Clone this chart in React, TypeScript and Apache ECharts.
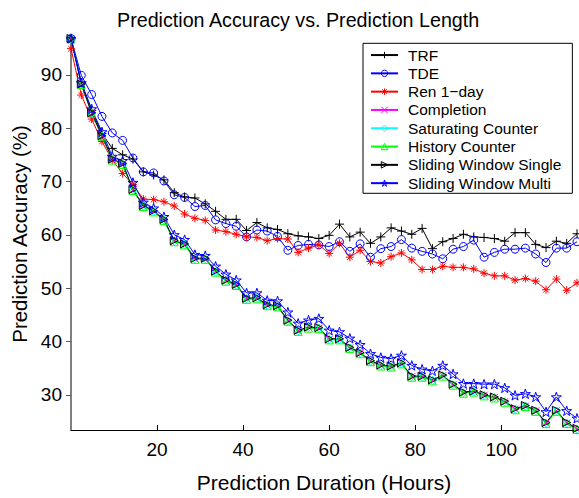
import React, { useEffect, useRef } from "react";
import * as echarts from "echarts";

const hours = [
  0, 2.4, 4.8, 7.2, 9.6, 12, 14.4, 16.8, 19.2, 21.6,
  24, 26.4, 28.8, 31.2, 33.6, 36, 38.4, 40.8, 43.2, 45.6,
  48, 50.4, 52.8, 55.2, 57.6, 60, 62.4, 64.8, 67.2, 69.6,
  72, 74.4, 76.8, 79.2, 81.6, 84, 86.4, 88.8, 91.2, 93.6,
  96, 98.4, 100.8, 103.2, 105.6, 108, 110.4, 112.8, 115.2, 117.6,
];

const trf = [
  96.8, 88.5, 83.3, 79.0, 76.2, 75.0, 74.2, 71.8, 71.2, 70.3,
  67.9, 67.1, 66.9, 65.8, 64.4, 62.9, 62.9, 60.8, 62.3, 61.3,
  61.0, 60.2, 59.8, 59.6, 59.3, 59.9, 62.0, 59.6, 60.5, 58.4,
  59.6, 61.3, 60.7, 60.1, 61.2, 57.4, 58.7, 59.3, 60.1, 59.6,
  59.5, 59.3, 58.8, 60.4, 60.4, 58.2, 57.6, 58.8, 58.4, 60.2,
];

const tde = [
  96.8, 89.9, 86.3, 82.2, 79.1, 77.7, 74.4, 71.8, 71.6, 70.1,
  67.5, 67.0, 65.3, 65.5, 62.8, 62.1, 61.6, 59.6, 60.9, 60.7,
  59.7, 57.1, 58.0, 58.2, 58.1, 57.8, 58.7, 56.9, 58.3, 55.8,
  57.4, 57.8, 59.1, 57.5, 56.9, 56.4, 55.5, 57.3, 57.8, 59.0,
  55.8, 56.7, 57.3, 57.3, 57.5, 56.4, 54.8, 57.5, 57.5, 58.7,
];

const ren = [
  94.9, 86.2, 81.7, 77.5, 74.0, 71.5, 69.4, 66.7, 66.6, 66.2,
  65.4, 63.9, 63.1, 62.7, 60.9, 60.6, 60.1, 59.6, 59.5, 58.9,
  59.3, 59.2, 56.7, 57.5, 58.1, 56.5, 58.4, 55.8, 57.1, 55.0,
  54.7, 55.9, 56.6, 55.3, 53.5, 53.5, 54.1, 53.9, 53.9, 53.6,
  52.8, 52.3, 52.3, 51.5, 51.8, 51.3, 49.7, 51.7, 49.6, 51.0,
];

const completion = [
  96.8, 88.2, 82.8, 78.5, 74.1, 73.3, 68.4, 65.4, 64.4, 62.8,
  58.8, 58.2, 55.5, 55.5, 53.1, 51.4, 50.6, 48.0, 48.1, 46.8,
  46.6, 43.9, 42.0, 42.6, 42.5, 40.4, 40.4, 38.8, 37.8, 36.3,
  35.5, 35.3, 35.9, 33.4, 33.4, 32.7, 33.6, 31.9, 30.4, 30.6,
  29.9, 29.5, 28.7, 27.3, 27.9, 27.0, 24.7, 27.0, 24.7, 23.6,
];

const saturating = [
  96.8, 88.2, 82.8, 78.5, 74.1, 73.3, 68.4, 65.4, 64.4, 62.8,
  58.8, 58.2, 55.5, 55.5, 53.1, 51.4, 50.6, 48.0, 48.1, 46.8,
  46.6, 43.9, 42.0, 42.6, 42.5, 40.4, 40.4, 38.8, 37.8, 36.3,
  35.5, 35.3, 35.9, 33.4, 33.4, 32.7, 33.6, 31.9, 30.4, 30.6,
  29.9, 29.5, 28.7, 27.3, 27.9, 27.0, 24.7, 27.0, 24.7, 23.6,
];

const history = [
  96.9, 88.2, 82.8, 78.5, 74.0, 73.2, 68.3, 65.3, 64.3, 62.7,
  58.7, 58.1, 55.4, 55.4, 53.0, 51.3, 50.5, 47.9, 48.0, 46.7,
  46.5, 43.8, 41.9, 42.5, 42.4, 40.3, 40.3, 38.7, 37.7, 36.2,
  35.4, 35.2, 35.8, 33.3, 33.3, 32.6, 33.5, 31.8, 30.3, 30.5,
  29.8, 29.4, 28.6, 27.2, 27.8, 26.9, 24.6, 26.9, 24.6, 23.5,
];

const windowSingle = [
  96.8, 88.3, 82.9, 78.6, 74.2, 73.4, 68.5, 65.5, 64.5, 62.9,
  58.9, 58.3, 55.6, 55.6, 53.2, 51.5, 50.7, 48.1, 48.2, 46.9,
  46.7, 44.0, 42.1, 42.7, 42.6, 40.5, 40.5, 38.9, 37.9, 36.4,
  35.6, 35.4, 36.0, 33.5, 33.5, 32.8, 33.7, 32.0, 30.5, 30.7,
  30.0, 29.6, 28.8, 27.4, 28.0, 27.1, 24.8, 27.1, 24.8, 23.7,
];

const windowMulti = [
  96.8, 88.5, 83.6, 79.3, 74.7, 73.9, 69.8, 66.1, 65.0, 63.4,
  60.0, 59.1, 56.3, 56.1, 54.1, 52.6, 51.5, 49.1, 49.1, 47.7,
  47.6, 45.5, 43.4, 44.0, 44.3, 42.1, 41.8, 40.6, 39.4, 37.7,
  37.0, 36.8, 37.4, 35.5, 34.8, 34.5, 35.5, 33.9, 32.1, 32.1,
  32.0, 32.0, 31.3, 29.9, 30.2, 29.6, 26.8, 29.6, 27.0, 25.6,
];

const xTicks = [20, 40, 60, 80, 100];
const yTicks = [30, 40, 50, 60, 70, 80, 90];

const FONT = "'Liberation Sans', Arial, Helvetica, sans-serif";

const PLUS = "path://M5 0L5 10M0 5L10 5";
const ASTERISK = "path://M5 0L5 10M0 5L10 5M1.5 1.5L8.5 8.5M1.5 8.5L8.5 1.5";
const XMARK = "path://M0 0L10 10M0 10L10 0";
const RIGHT_TRI = "path://M0 0L10 5L0 10Z";
const STAR =
  "path://M5 0L6.123 3.455L9.755 3.455L6.817 5.59L7.939 9.045L5 6.91L2.061 9.045L3.183 5.59L0.245 3.455L3.877 3.455Z";

function makeSeries(
  name: string,
  values: number[],
  color: string,
  symbol: string,
  size: number
) {
  return {
    name,
    type: "line",
    data: hours.map((h, i) => [h, values[i]]),
    symbol,
    symbolSize: size,
    symbolKeepAspect: true,
    showSymbol: true,
    clip: false,
    silent: true,
    lineStyle: { color, width: 1 },
    itemStyle: { color: "rgba(255,255,255,0)", borderColor: color, borderWidth: 1 },
    emphasis: { disabled: true },
  };
}

export default function App() {
  const ref = useRef<HTMLDivElement>(null);

  useEffect(() => {
    if (!ref.current) return;
    const chart = echarts.init(ref.current, undefined, { renderer: "svg" });
    const series = [
      makeSeries("TRF", trf, "#000000", PLUS, 9),
      makeSeries("TDE", tde, "#0000ff", "circle", 8),
      makeSeries("Ren 1\u2212day", ren, "#ff0000", ASTERISK, 8),
      makeSeries("Completion", completion, "#ff00ff", XMARK, 7),
      makeSeries("Saturating Counter", saturating, "#00ffff", "diamond", 8),
      makeSeries("History Counter", history, "#00ff00", "triangle", 8),
      makeSeries("Sliding Window Single", windowSingle, "#000000", RIGHT_TRI, 8),
      makeSeries("Sliding Window Multi", windowMulti, "#0000ff", STAR, 10),
    ];
    chart.setOption({
      animation: false,
      backgroundColor: "#ffffff",
      title: {
        text: "Prediction Accuracy vs. Prediction Length",
        left: 117,
        top: 10,
        padding: 0,
        textStyle: {
          fontFamily: FONT,
          fontSize: 19.7,
          fontWeight: "normal",
          color: "#000",
        },
      },
      legend: {
        orient: "vertical",
        left: 363,
        top: 43.3,
        backgroundColor: "#ffffff",
        borderColor: "#000000",
        borderWidth: 1,
        borderRadius: 0,
        padding: [2.6, 11, 1, 7],
        itemWidth: 27,
        itemHeight: 8,
        itemGap: 0,
        selectedMode: false,
        itemStyle: {
          color: "rgba(255,255,255,0)",
          borderColor: "inherit",
          borderWidth: 1,
        },
        textStyle: {
          fontFamily: FONT,
          fontSize: 15.5,
          lineHeight: 18.3,
          color: "#000",
          padding: [0, 0, 0, 5],
        },
        data: series.map((s) => s.name),
      },
      grid: {
        left: 71,
        right: 2,
        top: 38,
        bottom: 61,
        containLabel: false,
      },
      xAxis: {
        type: "value",
        min: 0,
        max: 117.6,
        name: "Prediction Duration (Hours)",
        nameLocation: "middle",
        nameGap: 42,
        nameTextStyle: { fontFamily: FONT, fontSize: 21, color: "#000" },
        axisLine: { show: true, onZero: false, lineStyle: { color: "#000", width: 1 } },
        axisTick: {
          show: true,
          inside: true,
          length: 5,
          customValues: xTicks,
          lineStyle: { color: "#000", width: 1 },
        },
        axisLabel: {
          customValues: xTicks,
          fontFamily: FONT,
          fontSize: 19,
          color: "#000",
          margin: 10,
        },
        splitLine: { show: false },
      },
      yAxis: {
        type: "value",
        min: 23.4,
        max: 96.9,
        name: "Prediction Accuracy (%)",
        nameLocation: "middle",
        nameGap: 41,
        nameTextStyle: { fontFamily: FONT, fontSize: 20.5, color: "#000" },
        axisLine: { show: true, onZero: false, lineStyle: { color: "#808080", width: 2 } },
        axisTick: {
          show: true,
          inside: false,
          length: 5,
          customValues: yTicks,
          lineStyle: { color: "#555", width: 1 },
        },
        axisLabel: {
          customValues: yTicks,
          fontFamily: FONT,
          fontSize: 19,
          color: "#000",
          margin: 9,
        },
        splitLine: { show: false },
      },
      series,
    });
    return () => chart.dispose();
  }, []);

  return (
    <div
      ref={ref}
      style={{
        position: "fixed",
        left: 0,
        top: 0,
        width: 579,
        height: 498,
        background: "#ffffff",
      }}
    />
  );
}
